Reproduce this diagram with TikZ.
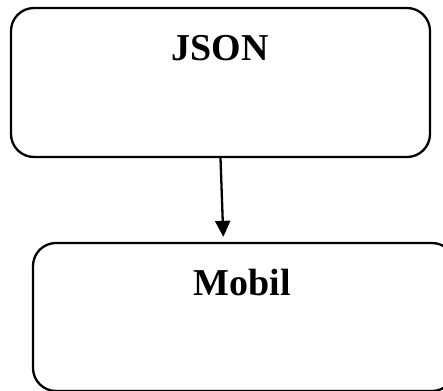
\documentclass[tikz,border=0pt]{standalone}
\usepackage{fontspec}
\setmainfont{Liberation Serif}
\usetikzlibrary{arrows.meta}
\begin{document}
\begin{tikzpicture}[x=1pt,y=-1pt,
  box/.style={draw=black, line width=2.3pt, rounded corners=23pt, inner sep=0pt},
  title/.style={font=\fontsize{38}{40}\selectfont\bfseries, anchor=base, inner sep=0pt},
  link/.style={draw=black, line width=2.3pt, -{Triangle[length=16pt,width=15pt]}}]
  \useasboundingbox (0,0) rectangle (443,390);
  \clip (0,0) rectangle (443,390);
  % source box
  \node[box, minimum width=419pt, minimum height=149pt] (json) at (220.5,82.5) {};
  \node[title] (jsontxt) at (220,61) {JSON};
  % target box (runs past the right and bottom edges)
  \node[box, minimum width=422pt, minimum height=148pt] (mobil) at (244,317) {};
  \node[title] (mobiltxt) at (242,295) {Mobil};
  % connector
  \coordinate (tip) at ([xshift=-20.7pt,yshift=5pt]mobil.north);
  \draw[link] (json.south) -- (tip);
\end{tikzpicture}
\end{document}
